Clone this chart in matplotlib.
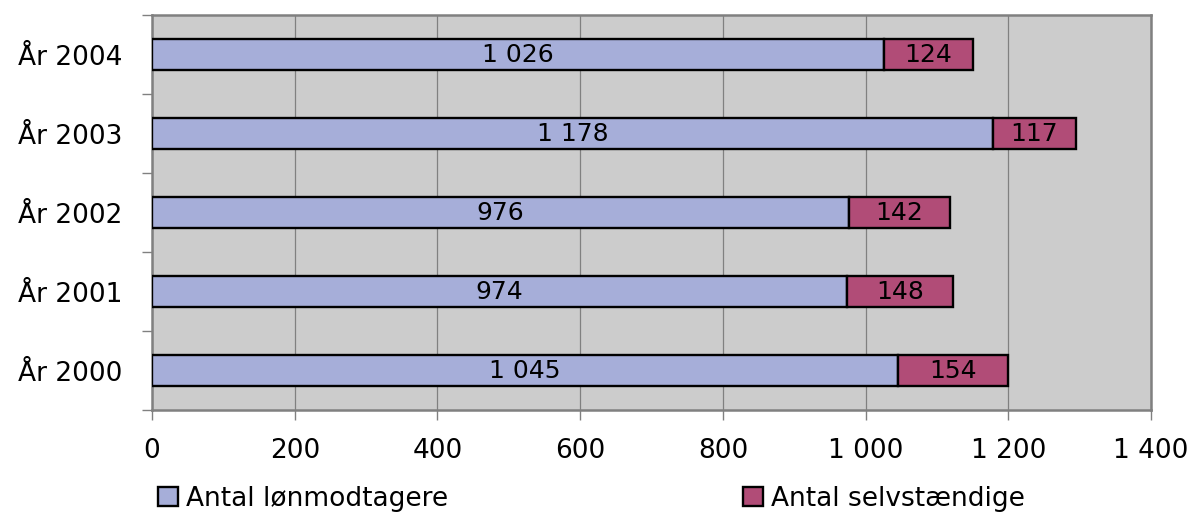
import matplotlib
matplotlib.use("Agg")
import matplotlib.pyplot as plt
import numpy as np

plt.rcParams["font.family"] = ["DejaVu Sans"]

years = ["År 2000", "År 2001", "År 2002", "År 2003", "År 2004"]
loenmodtagere = [1045, 974, 976, 1178, 1026]
selvstaendige = [154, 148, 142, 117, 124]
series_names = ["Antal lønmodtagere", "Antal selvstændige"]
xticks = [0, 200, 400, 600, 800, 1000, 1200, 1400]

BLUE = "#A6AED9"
RED = "#B14C77"
GRID = "#808080"


def fmt(v):
    return f"{v:,}".replace(",", " ")


fig = plt.figure(figsize=(11.98, 5.16), dpi=100)
ax = fig.add_axes([0.1269, 0.2054, 0.834, 0.7655])
ax.set_facecolor("#CCCCCC")

y = np.arange(len(years))
h = 0.40
b1 = ax.barh(y, loenmodtagere, h, color=BLUE, edgecolor="black", lw=1.7,
             label=series_names[0], zorder=3)
b2 = ax.barh(y, selvstaendige, h, left=loenmodtagere, color=RED,
             edgecolor="black", lw=1.7, label=series_names[1], zorder=3)
ax.bar_label(b1, labels=[fmt(v) for v in loenmodtagere], label_type="center",
             fontsize=18, zorder=4)
ax.bar_label(b2, labels=[fmt(v) for v in selvstaendige], label_type="center",
             fontsize=18, zorder=4)

ax.set_xlim(0, 1400)
ax.set_ylim(-0.5, len(years) - 0.5)
ax.set_xticks(xticks)
ax.set_xticklabels([fmt(v) for v in xticks], fontsize=19)
ax.xaxis.grid(True, color=GRID, lw=0.9, zorder=0)
ax.tick_params(axis="x", length=7, width=1, color=GRID, pad=13)

ax.set_yticks(y)
ax.set_yticklabels(years, fontsize=19)
ax.set_yticks(np.arange(-0.5, len(years)), minor=True)
ax.tick_params(axis="y", which="major", length=0, pad=21)
ax.tick_params(axis="y", which="minor", length=7, width=1, color=GRID)

for side in ["left", "right", "top", "bottom"]:
    ax.spines[side].set_color(GRID)
    ax.spines[side].set_linewidth(1.8)

# legend sits low, right against the bottom edge
fig.legend(handles=[b1, b2], loc="lower left", bbox_to_anchor=(0.112, -0.038),
           ncol=2, frameon=False, fontsize=19, columnspacing=11.2,
           handlelength=0.75, handleheight=0.75, handletextpad=0.3)

fig.savefig("out.png", dpi=100)
